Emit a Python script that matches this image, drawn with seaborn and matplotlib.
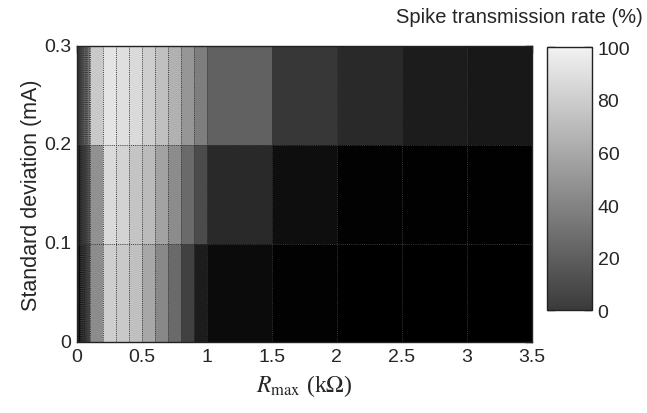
import numpy as np
import matplotlib
matplotlib.use("Agg")
import matplotlib.pyplot as plt
import seaborn as sns
from matplotlib.colors import LinearSegmentedColormap, Normalize
from matplotlib.cm import ScalarMappable

# R_max bin edges (kOhm) and noise s.d. bin edges (mA)
r_edges = [0, 0.01, 0.02, 0.03, 0.04, 0.05, 0.06, 0.07, 0.08, 0.09, 0.1,
           0.2, 0.3, 0.4, 0.5, 0.6, 0.7, 0.8, 0.9, 1.0,
           1.5, 2.0, 2.5, 3.0, 3.5]
sd_edges = [0, 0.1, 0.2, 0.3]

# spike transmission rate (%) per cell, one list per s.d. row (bottom -> top)
rate_sd_low = [2, 5, 8, 11, 14, 17, 20, 23, 26, 29,
               58, 85, 83, 79, 69, 56, 44, 27, 12,
               5, 1, 0, 0, 0]
rate_sd_mid = [7, 10, 14, 17, 20, 23, 26, 29, 32, 35,
               60, 90, 87, 81, 77, 67, 58, 44, 31,
               17, 6, 1, 0.5, 0.5]
rate_sd_high = [18, 22, 26, 30, 33, 36, 40, 43, 47, 52,
                83, 94, 92, 90, 85, 79, 73, 62, 52,
                40, 23, 17, 12, 10]

x_ticks = [0, 0.5, 1, 1.5, 2, 2.5, 3, 3.5]
x_ticklabels = ["0", "0.5", "1", "1.5", "2", "2.5", "3", "3.5"]
y_ticks = [0, 0.1, 0.2, 0.3]
y_ticklabels = ["0", "0.1", "0.2", "0.3"]
cbar_ticks = [0, 20, 40, 60, 80, 100]

STEP = 0.01  # resample the uneven bins on a regular grid for sns.heatmap


def expand(row):
    reps = np.rint(np.diff(r_edges) / STEP).astype(int)
    return np.repeat(row, reps)


grid = np.vstack([expand(rate_sd_low), expand(rate_sd_mid), expand(rate_sd_high)])
n_cols = grid.shape[1]
sd_step = sd_edges[1] - sd_edges[0]

sns.set_style("white")
plt.rcParams["font.family"] = ["Liberation Sans", "DejaVu Sans"]
plt.rcParams["mathtext.fontset"] = "stix"

fig = plt.figure(figsize=(6.47, 4.14), dpi=100)
ax = fig.add_axes([0.119, 0.171, 0.703, 0.715])

heat_cmap = LinearSegmentedColormap.from_list("heat", ["#000000", "#f2f2f2"])
sns.heatmap(grid, cmap=heat_cmap, vmin=0, vmax=100, cbar=False, ax=ax)
ax.set_ylim(0, grid.shape[0])
ax.set_xlim(0, n_cols)

# dotted cell borders
for e in r_edges[1:-1]:
    ax.axvline(e / STEP, color="#3a3a3a", lw=0.7, ls=(0, (1, 1.2)))
for e in sd_edges[1:-1]:
    ax.axhline(e / sd_step, color="#3a3a3a", lw=0.7, ls=(0, (1, 1.2)))

ax.set_xticks([t / STEP for t in x_ticks])
ax.set_xticklabels(x_ticklabels, rotation=0)
ax.set_yticks([t / sd_step for t in y_ticks])
ax.set_yticklabels(y_ticklabels, rotation=0)
ax.tick_params(direction="in", length=5, width=1, top=True, right=True,
               labelsize=14, pad=4, color="#111111")
for s in ax.spines.values():
    s.set_visible(True)
    s.set_color("#222222")
    s.set_linewidth(1)

ax.set_ylabel("Standard deviation (mA)", fontsize=15.5, labelpad=2)
ax.set_xlabel(r"$R_{\rm max}$ (k$\Omega$)", fontsize=17,
              family="Liberation Serif", labelpad=5)

# colour bar
cax = fig.add_axes([0.846, 0.248, 0.069, 0.636])
bar_cmap = LinearSegmentedColormap.from_list("bar", ["#3a3a3a", "#f2f2f2"])
cb = fig.colorbar(ScalarMappable(norm=Normalize(0, 100), cmap=bar_cmap), cax=cax)
cb.set_ticks(cbar_ticks)
cb.ax.tick_params(direction="in", length=6, width=1, left=True, right=True,
                  labelsize=14, pad=4, color="#222222")
cb.outline.set_edgecolor("#222222")
cb.outline.set_linewidth(1)

fig.text(0.993, 0.945, "Spike transmission rate (%)", ha="right", va="baseline",
         fontsize=14.5)

fig.savefig("out.png", dpi=100)
